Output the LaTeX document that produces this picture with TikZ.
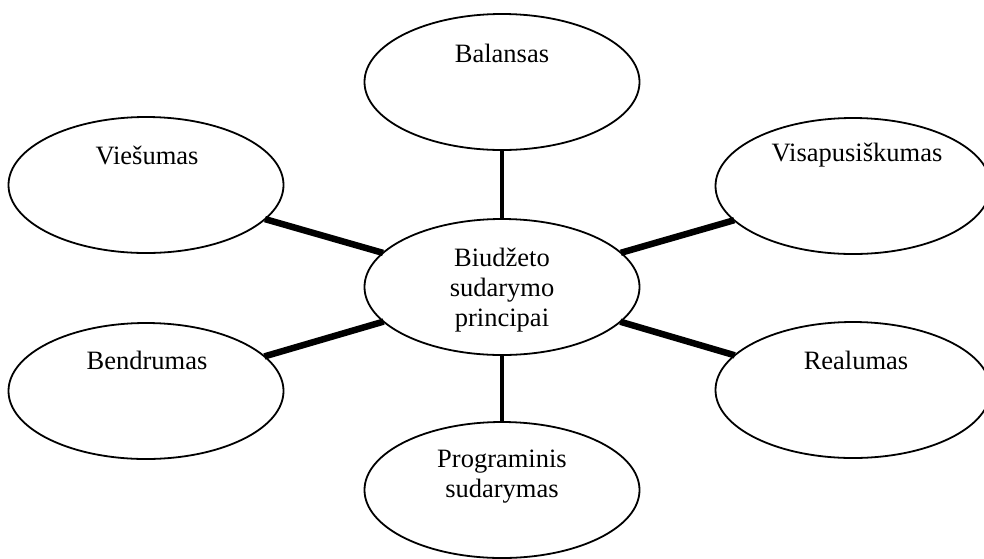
\documentclass[tikz,border=0pt]{standalone}
\usepackage{fontspec}
\setmainfont{Liberation Serif}
\usetikzlibrary{shapes.geometric}
\begin{document}
\begin{tikzpicture}[x=1pt,y=-1pt,
  oval/.style={draw=black,line width=1.8pt,ellipse,inner sep=0pt,outer sep=0pt,minimum width=275pt,minimum height=136pt},
  lbl/.style={font=\fontsize{26.5}{30}\selectfont,align=center,inner sep=0pt},
  thinlink/.style={line width=4.5pt},
  thicklink/.style={line width=6.5pt}]
\useasboundingbox (0,0) rectangle (984,558);
\node[oval] (bal) at (502,82) {};
\node[oval] (vie) at (146,185) {};
\node[oval] (vis) at (853,186) {};
\node[oval] (c) at (502,287) {};
\node[oval] (ben) at (146,391) {};
\node[oval] (rea) at (853,390) {};
\node[oval] (pro) at (502,490) {};
\node[lbl] (balt) at (502,53) {Balansas};
\node[lbl] (viet) at (147,155) {Viešumas};
\node[lbl] (vist) at (857,155) {Visapusiškumas};
\node[lbl] (ct) at (502,290) {Biudžeto\\sudarymo\\principai};
\node[lbl] (bent) at (147,360) {Bendrumas};
\node[lbl] (reat) at (856,360) {Realumas};
\node[lbl] (prot) at (502,477) {Programinis\\sudarymas};
\draw[thinlink] (bal) -- (c);
\draw[thinlink] (c) -- (pro);
\draw[thicklink] (vie) -- (c);
\draw[thicklink] (vis) -- (c);
\draw[thicklink] (ben) -- (c);
\draw[thicklink] (rea) -- (c);
\end{tikzpicture}
\end{document}
